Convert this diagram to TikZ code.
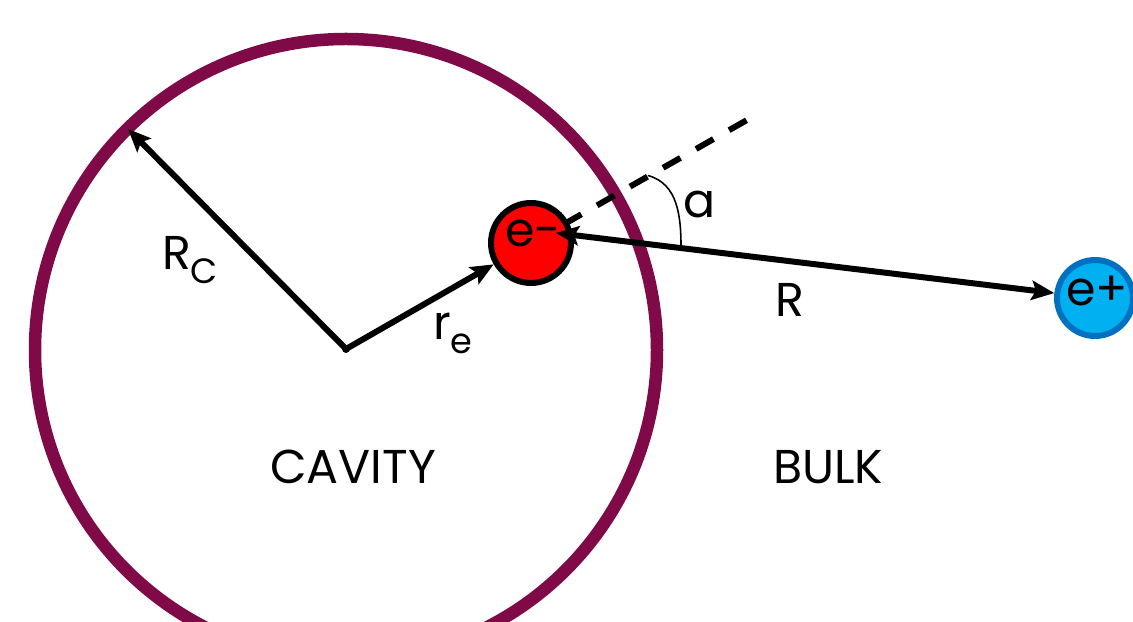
\documentclass[tikz,border=0pt]{standalone}
\usepackage{fontspec}
\setmainfont{Poppins}
\usetikzlibrary{arrows.meta,calc}
\definecolor{rimc}{RGB}{128,10,72}
\definecolor{posf}{RGB}{0,176,240}
\definecolor{posd}{RGB}{0,112,192}
\newcommand\lsub[1]{\raisebox{-8pt}{\fontsize{20}{22}\selectfont #1}}
\tikzset{
  >={Stealth[length=13pt,width=11pt,inset=2.5pt]},
  vec/.style={line width=3.4pt},
  pc/.style={circle,draw,line width=3.4pt,inner sep=0pt},
  lb/.style={inner sep=0pt,font=\fontsize{27}{30}\selectfont},
  every picture/.style={line width=0.5pt},
}
\begin{document}
\begin{tikzpicture}[x=0.02cm,y=0.02cm]
\clip (0,0) rectangle (1133,622);
\draw[rimc,line width=0.25cm] (346,272) circle[radius=311];
\coordinate (O) at (346,273); \coordinate (rim) at (128,493); \coordinate (dend) at (754,506);
\draw[vec,dash pattern=on 0.4cm off 0.36cm] (531,379) -- (dend);
\node[pc,fill=red,minimum size=1.6cm] (em) at (531,379) {};
\node[pc,fill=posf,draw=posd,minimum size=1.52cm] (ep) at (1095,324) {};
\coordinate (etip) at (556,389);
\node[lb] (emt) at (533,388) {e-}; \node[lb] (ept) at (1097,331) {e+};
\fill (O) circle (4);
\draw[vec,->] (O) -- (rim); \draw[vec,->] (O) -- (em);
\draw[vec,<->] (etip) -- (ep);
\path (em.center) ++(30:135) coordinate (aS); \coordinate (aE) at ($(etip)!0.232!(ep)$);
\draw[line width=0.9pt] (aS) to[out=-15,in=90] (aE);
\node[lb] (Rc) at (190,362) {R\lsub{C}}; \node[lb] (re) at (453,289) {r\lsub{e}};
\node[lb] (al) at (700,417) {a}; \node[lb] (Rl) at (790,322) {R};
\node[lb] (cav) at (353,155) {CAVITY}; \node[lb] (blk) at (828,155) {BULK};
\end{tikzpicture}
\end{document}
